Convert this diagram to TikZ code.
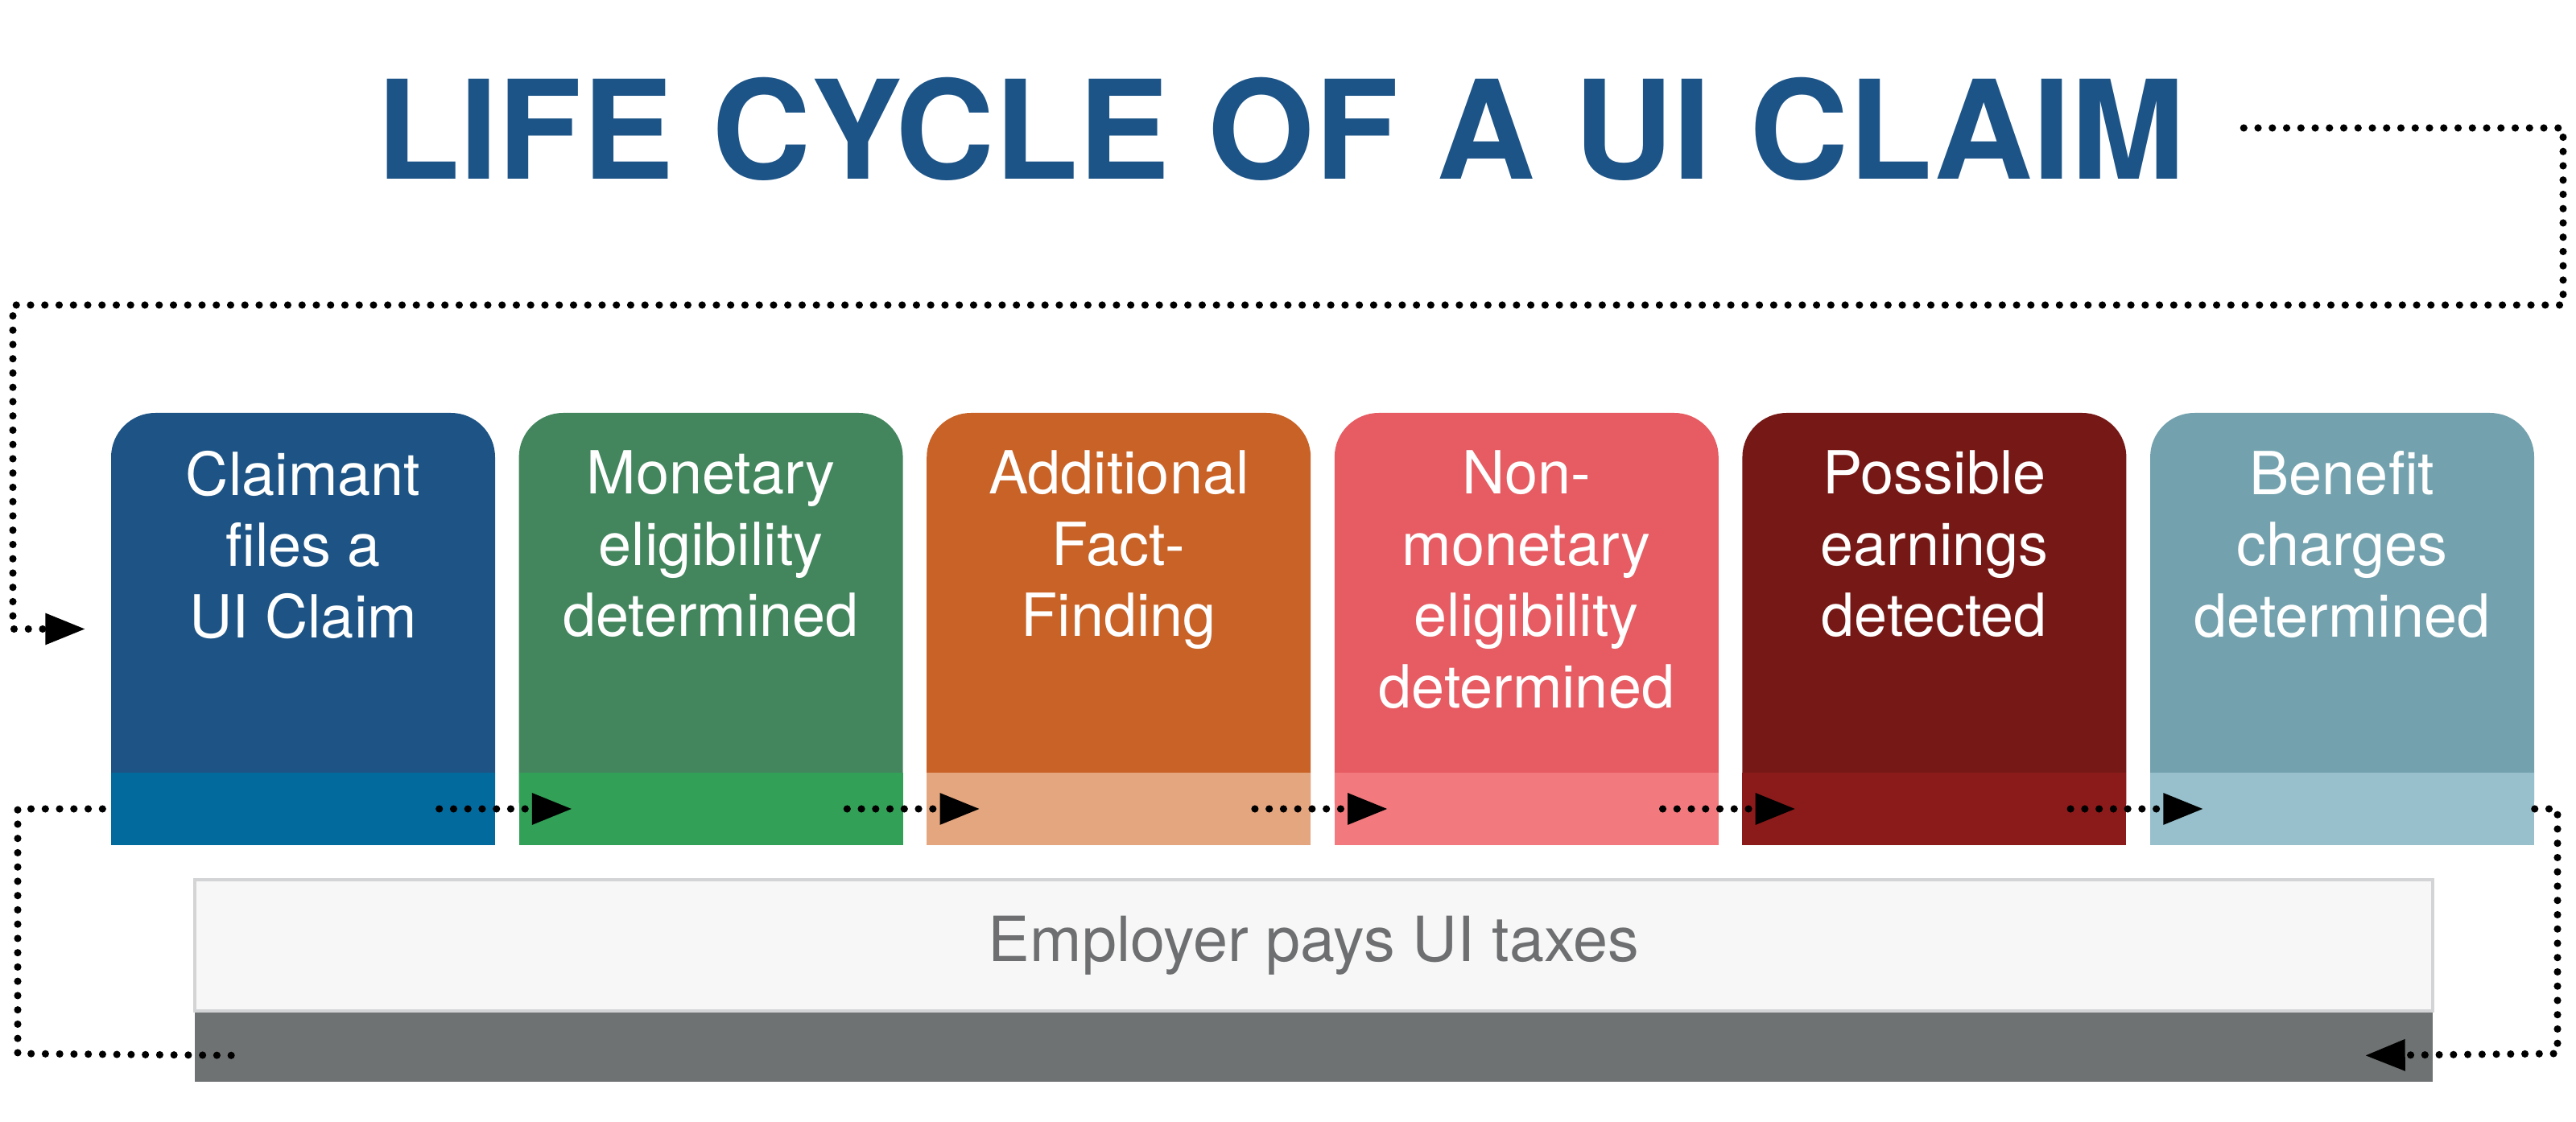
\documentclass[tikz,border=0pt]{standalone}
\usepackage{fontspec}
\setmainfont{TeX Gyre Heros}
\usepackage{tikz}
\usetikzlibrary{calc, positioning, arrows.meta}

\definecolor{titleBlue}{HTML}{1D5487}
\definecolor{claimTop}{HTML}{1D5485}
\definecolor{claimBand}{HTML}{036A9E}
\definecolor{monetaryTop}{HTML}{43865E}
\definecolor{monetaryBand}{HTML}{32A057}
\definecolor{factTop}{HTML}{C86226}
\definecolor{factBand}{HTML}{E4A67F}
\definecolor{nonMonTop}{HTML}{E65C62}
\definecolor{nonMonBand}{HTML}{F27A7E}
\definecolor{earningsTop}{HTML}{761916}
\definecolor{earningsBand}{HTML}{8B1B1A}
\definecolor{chargesTop}{HTML}{73A2AE}
\definecolor{chargesBand}{HTML}{97C0CC}
\definecolor{taxFill}{HTML}{F7F7F7}
\definecolor{taxEdge}{HTML}{D3D4D6}
\definecolor{taxBand}{HTML}{6F7272}
\definecolor{taxText}{HTML}{6E6F71}

\tikzset{
  stagecard/.style={rectangle, rounded corners=0.55cm, minimum width=4.77cm,
                    minimum height=5.37cm, inner sep=0pt},
  stageband/.style={rectangle, minimum width=4.77cm, minimum height=0.9cm,
                    inner sep=0pt, anchor=south},
  stagetext/.style={inner sep=0pt, align=center, text=white,
                    font=\fontsize{21pt}{25.2pt}\selectfont},
  dotline/.style={line width=2.6pt, line cap=round, dash pattern=on 0pt off 5.05pt},
  flowtip/.style={-{Triangle[length=5mm, width=3.7mm]}},
}

\begin{document}
\begin{tikzpicture}
        \useasboundingbox (0,0) rectangle (32,13.94);

        \node[text=titleBlue, inner sep=0pt,
              font=\fontsize{48.5pt}{52pt}\selectfont\bfseries] (title) at (15.91,12.335)
              {LIFE CYCLE OF A UI CLAIM};

        % stages
        \node[stagecard, fill=claimTop] (c1) at (3.765,6.125) {};
        \node[stagecard, fill=monetaryTop, right=0.282cm of c1] (c2) {};
        \node[stagecard, fill=factTop, right=0.282cm of c2] (c3) {};
        \node[stagecard, fill=nonMonTop, right=0.282cm of c3] (c4) {};
        \node[stagecard, fill=earningsTop, right=0.282cm of c4] (c5) {};
        \node[stagecard, fill=chargesTop, right=0.282cm of c5] (c6) {};

        \node[stageband, fill=claimBand] (b1) at (c1.south) {};
        \node[stageband, fill=monetaryBand] (b2) at (c2.south) {};
        \node[stageband, fill=factBand] (b3) at (c3.south) {};
        \node[stageband, fill=nonMonBand] (b4) at (c4.south) {};
        \node[stageband, fill=earningsBand] (b5) at (c5.south) {};
        \node[stageband, fill=chargesBand] (b6) at (c6.south) {};

        \node[stagetext, below=0.47cm of c1.north] (t1) {Claimant\\files a\\UI Claim};
        \node[stagetext, below=0.47cm of c2.north] (t2) {Monetary\\eligibility\\determined};
        \node[stagetext, below=0.47cm of c3.north] (t3) {Additional\\Fact-\\Finding};
        \node[stagetext, below=0.47cm of c4.north] (t4) {Non-\\monetary\\eligibility\\determined};
        \node[stagetext, below=0.47cm of c5.north] (t5) {Possible\\earnings\\detected};
        \node[stagetext, below=0.47cm of c6.north] (t6) {Benefit\\charges\\determined};

        % employer bar
        \node[draw=taxEdge, line width=0.95pt, fill=taxFill, minimum width=27.8cm,
              minimum height=1.63cm, text=taxText,
              font=\fontsize{22pt}{26pt}\selectfont] (taxes) at (16.32,2.195)
              {Employer pays UI taxes};
        \node[fill=taxBand, minimum width=27.8cm, minimum height=0.86cm, inner sep=0pt,
              below=0pt of taxes] (taxband) {};

        % connectors
        \coordinate (upperRight) at (31.84,10.15);
        \coordinate (upperLeft) at (0.16,10.15);
        \coordinate (lowerLeft) at (0.22,0.85);
        \coordinate (lowerRight) at (31.77,0.85);

        \draw[dotline, flowtip, shorten <=0.72cm, shorten >=0.31cm]
              ([yshift=0.015cm]title.east) -| (upperRight) -- (upperLeft) |- (c1.west);

        \draw[dotline, flowtip, shorten <=-0.70cm, shorten >=-0.67cm] (b1.east) -- (b2.west);
        \draw[dotline, flowtip, shorten <=-0.70cm, shorten >=-0.67cm] (b2.east) -- (b3.west);
        \draw[dotline, flowtip, shorten <=-0.70cm, shorten >=-0.67cm] (b3.east) -- (b4.west);
        \draw[dotline, flowtip, shorten <=-0.70cm, shorten >=-0.67cm] (b4.east) -- (b5.west);
        \draw[dotline, flowtip, shorten <=-0.70cm, shorten >=-0.67cm] (b5.east) -- (b6.west);

        \draw[dotline, shorten <=0.10cm]
              (b1.west) -| (lowerLeft) -- ([xshift=0.57cm, yshift=-0.10cm]taxband.west);
        \draw[dotline, flowtip]
              (b6.east) -| (lowerRight) -- ([xshift=-0.85cm, yshift=-0.10cm]taxband.east);
\end{tikzpicture}
\end{document}
